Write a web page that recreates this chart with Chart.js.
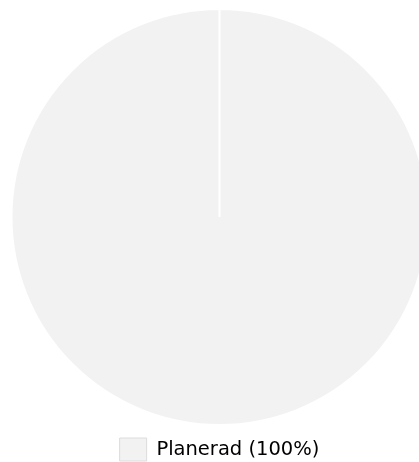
<!DOCTYPE html>
<html>
<head>
<meta charset="utf-8">
<script src="https://cdn.jsdelivr.net/npm/chart.js@4"></script>
<style>
  html, body { margin: 0; padding: 0; background: #ffffff; overflow: hidden; }
  #wrap { position: relative; width: 439px; height: 471px; }
</style>
</head>
<body>
<div id="wrap"><canvas id="chart" width="439" height="471"></canvas></div>
<script>
// Status categories and their share of the total
const categories = ['Planerad (100%)'];
const shares = [100];
const sliceColors = ['#f2f2f2'];
const legendBoxBorder = '#dcdcdc';

const ctx = document.getElementById('chart').getContext('2d');
new Chart(ctx, {
  type: 'pie',
  data: {
    labels: categories,
    datasets: [{
      data: shares,
      backgroundColor: sliceColors,
      borderColor: '#ffffff',
      borderWidth: 2,
      hoverOffset: 0
    }]
  },
  options: {
    responsive: false,
    animation: false,
    layout: { padding: { top: 8, left: 0, right: 0, bottom: 0 } },
    plugins: {
      tooltip: { enabled: false },
      legend: {
        position: 'bottom',
        labels: {
          boxWidth: 27,
          boxHeight: 23,
          padding: 12,
          color: '#888888',
          font: { family: 'DejaVu Sans', size: 19.5 },
          generateLabels(chart) {
            const ds = chart.data.datasets[0];
            return chart.data.labels.map((label, i) => ({
              text: label,
              fillStyle: ds.backgroundColor[i],
              strokeStyle: legendBoxBorder,
              lineWidth: 1,
              hidden: false,
              index: i
            }));
          }
        }
      }
    }
  }
});
</script>
</body>
</html>
